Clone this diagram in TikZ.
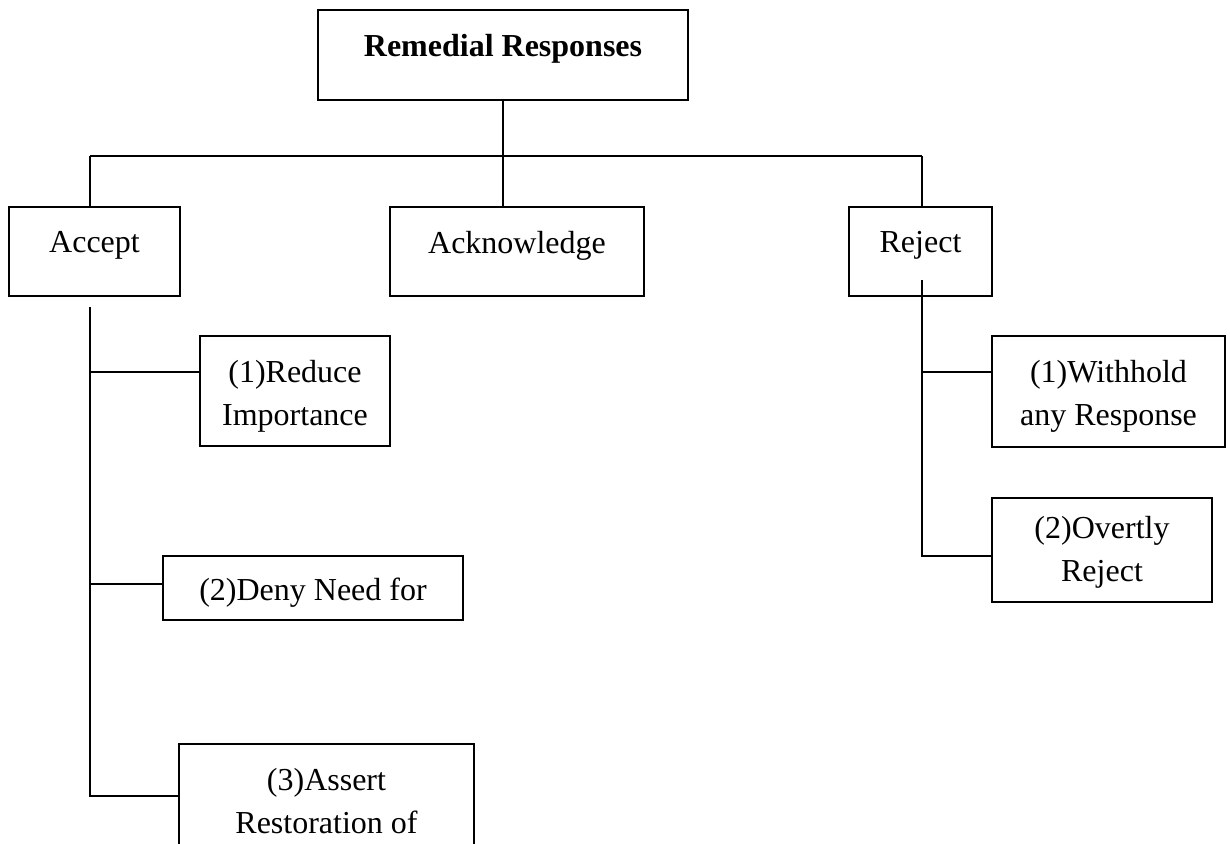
\documentclass[tikz,border=0pt]{standalone}
\usepackage{fontspec}
\setmainfont{Liberation Serif}
\usetikzlibrary{positioning}
\newcommand{\diagfont}{\fontsize{16}{21.5}\selectfont}

\begin{document}
\begin{tikzpicture}[
x=0.5pt, y=0.5pt,
line width=0.85pt,
box/.style={rectangle, draw, inner sep=0pt},
boxtext/.style={inner sep=0pt, align=center, font=\diagfont}
]
\clip (0,0) rectangle (1230,-843);

\node (remedial) [box, minimum width=185pt, minimum height=45pt] at (503,-55) {};
\node (accept) [box, minimum width=85.5pt, minimum height=44.5pt] at (94.5,-251.5) {};
\node (ack) [box, minimum width=127pt, minimum height=44.5pt] at (517,-251.5) {};
\node (reject) [box, minimum width=71.5pt, minimum height=44.5pt] at (920.5,-251.5) {};
\node (reduce) [box, minimum width=95pt, minimum height=55pt] at (295,-391) {};
\node (deny) [box, minimum width=150pt, minimum height=32pt] at (313,-588) {};
\node (assert) [box, minimum width=147.5pt, minimum height=73pt] at (326.5,-817) {};
\node (withhold) [box, minimum width=116.5pt, minimum height=55.5pt] at (1108.5,-391.5) {};
\node (overtly) [box, minimum width=110pt, minimum height=52pt] at (1102,-550) {};

\node (remedialtxt) [boxtext, font=\diagfont\bfseries, below=12pt of remedial.north] {Remedial Responses};
\node (accepttxt) [boxtext, below=12pt of accept.north] {Accept};
\node (acktxt) [boxtext, below=12pt of ack.north] {Acknowledge};
\node (rejecttxt) [boxtext, below=12pt of reject.north] {Reject};
\node (reducetxt) [boxtext, below=12pt of reduce.north] {(1)Reduce\\Importance};
\node (denytxt) [boxtext, below=11pt of deny.north] {(2)Deny Need for};
\node (asserttxt) [boxtext, below=12pt of assert.north] {(3)Assert\\Restoration of};
\node (withholdtxt) [boxtext, below=12pt of withhold.north] {(1)Withhold\\any Response};
\node (overtlytxt) [boxtext, below=9pt of overtly.north] {(2)Overtly\\Reject};

\coordinate (busL) at (90,-156);
\coordinate (busR) at (922,-156);
\draw (remedial) -- (remedial |- ack.north);
\draw (busL) -- (busR);
\draw (busL) -- (busL |- accept.north);
\draw (busR) -- (busR |- reject.north);

\coordinate (atop) at (90,-307);
\coordinate (abot) at (90,-796);
\coordinate (a1) at (90,-372);
\coordinate (a2) at (90,-584);
\draw (atop) -- (abot) -- (abot -| assert.west);
\draw (a1) -- (a1 -| reduce.west);
\draw (a2) -- (a2 -| deny.west);

\coordinate (rtop) at (922,-280);
\coordinate (rbot) at (922,-556);
\coordinate (r1) at (922,-372);
\draw (rtop) -- (rbot) -- (rbot -| overtly.west);
\draw (r1) -- (r1 -| withhold.west);
\end{tikzpicture}
\end{document}
